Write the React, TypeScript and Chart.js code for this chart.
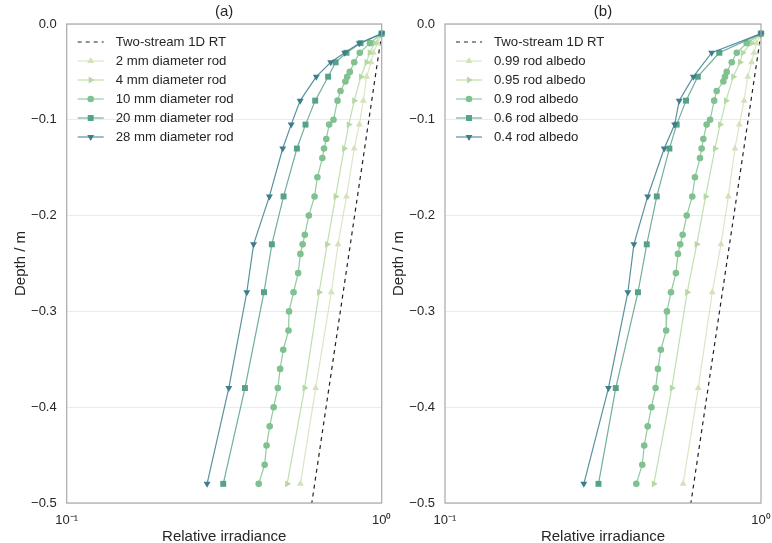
import React, { useEffect, useRef } from 'react';
import { Chart, registerables } from 'chart.js';

Chart.register(...registerables);

const FONT = '"Liberation Sans", Arial, Helvetica, sans-serif';
const TEXT = '#262626';

// Depth grids (m)
const depthMain = [-0.01, -0.02, -0.03, -0.04, -0.055, -0.08, -0.105, -0.13, -0.18, -0.23, -0.28, -0.38, -0.48];
const depthCoarse = [-0.01, -0.03, -0.055, -0.08, -0.105, -0.13, -0.18, -0.23, -0.28, -0.38, -0.48];
const depthFine = [
  -0.01, -0.02, -0.03, -0.04, -0.05, -0.055, -0.06, -0.07, -0.08, -0.1, -0.105, -0.12, -0.13, -0.14, -0.16, -0.18,
  -0.2, -0.22, -0.23, -0.24, -0.26, -0.28, -0.3, -0.32, -0.34, -0.36, -0.38, -0.4, -0.42, -0.44, -0.46, -0.48,
];
const depthTwoStream = [-0.01, -0.5];

// Relative irradiance
const twoStream = [1.0, 0.6];

// Panel (a): rod diameter
const rod2mm = [1.0, 0.971, 0.941, 0.925, 0.896, 0.874, 0.849, 0.818, 0.773, 0.727, 0.692, 0.617, 0.552];
const rod4mm = [1.0, 0.95, 0.916, 0.895, 0.859, 0.818, 0.786, 0.76, 0.714, 0.671, 0.633, 0.569, 0.501];
const rod10mm = [
  1.0, 0.918, 0.852, 0.818, 0.792, 0.777, 0.767, 0.74, 0.724, 0.703, 0.681, 0.667, 0.656, 0.648, 0.625, 0.612,
  0.587, 0.57, 0.561, 0.552, 0.543, 0.525, 0.508, 0.506, 0.487, 0.476, 0.468, 0.454, 0.441, 0.431, 0.425, 0.407,
];
const rod20mm = [1.0, 0.857, 0.773, 0.714, 0.676, 0.615, 0.573, 0.538, 0.488, 0.448, 0.423, 0.368, 0.314];
const rod28mm = [1.0, 0.849, 0.763, 0.689, 0.62, 0.551, 0.516, 0.485, 0.44, 0.392, 0.373, 0.327, 0.279];

// Panel (b): rod albedo
const alb099 = [1.0, 0.969, 0.95, 0.934, 0.908, 0.884, 0.854, 0.827, 0.788, 0.747, 0.701, 0.633, 0.567];
const alb095 = [1.0, 0.935, 0.875, 0.858, 0.817, 0.775, 0.742, 0.715, 0.668, 0.626, 0.584, 0.522, 0.458];
const alb090 = [
  1.0, 0.901, 0.838, 0.808, 0.779, 0.769, 0.76, 0.724, 0.711, 0.69, 0.673, 0.657, 0.649, 0.641, 0.618, 0.606,
  0.582, 0.565, 0.555, 0.546, 0.538, 0.519, 0.504, 0.501, 0.482, 0.472, 0.464, 0.45, 0.438, 0.427, 0.421, 0.403,
];
const alb060 = [1.0, 0.738, 0.631, 0.579, 0.541, 0.513, 0.468, 0.435, 0.408, 0.347, 0.306];
const alb040 = [1.0, 0.698, 0.611, 0.551, 0.533, 0.494, 0.438, 0.396, 0.379, 0.329, 0.275];

const labelsA = ['Two-stream 1D RT', '2 mm diameter rod', '4 mm diameter rod', '10 mm diameter rod', '20 mm diameter rod', '28 mm diameter rod'];
const labelsB = ['Two-stream 1D RT', '0.99 rod albedo', '0.95 rod albedo', '0.9 rod albedo', '0.6 rod albedo', '0.4 rod albedo'];
const xTickLabels = ['10⁻¹', '10⁰'];

const COLORS = ['#222222', '#d4e2bb', '#b4d9a2', '#7fc18f', '#57a18b', '#3d7e8d'];
const STYLES = ['none', 'triangle', 'triangle', 'circle', 'rect', 'triangle'];
const ROTS = [0, 0, 90, 0, 0, 180];
const RADII = [0, 4, 4, 3.3, 4.2, 4];

function rgba(hex: string, a: number) {
  const n = parseInt(hex.slice(1), 16);
  return `rgba(${(n >> 16) & 255},${(n >> 8) & 255},${n & 255},${a})`;
}

function drawMarker(ctx: CanvasRenderingContext2D, style: string, rot: number, x: number, y: number, r: number, color: string) {
  if (style === 'none') return;
  ctx.save();
  ctx.fillStyle = color;
  ctx.beginPath();
  if (style === 'circle') {
    ctx.arc(x, y, r, 0, Math.PI * 2);
  } else if (style === 'rect') {
    const s = r * Math.SQRT1_2;
    ctx.rect(x - s, y - s, 2 * s, 2 * s);
  } else {
    const a = (rot * Math.PI) / 180;
    for (let k = 0; k < 3; k++) {
      const ang = a - Math.PI / 2 + (k * 2 * Math.PI) / 3;
      const px = x + r * Math.cos(ang);
      const py = y + r * Math.sin(ang);
      if (k === 0) ctx.moveTo(px, py);
      else ctx.lineTo(px, py);
    }
    ctx.closePath();
  }
  ctx.fill();
  ctx.restore();
}

type PanelProps = {
  left: number;
  width: number;
  yWidth: number;
  padRight: number;
  yTitlePad: number;
  title: string;
  labels: string[];
  xs: number[][];
  ys: number[][];
};

function Panel({ left, width, yWidth, padRight, yTitlePad, title, labels, xs, ys }: PanelProps) {
  const ref = useRef<HTMLCanvasElement>(null);
  useEffect(() => {
    const datasets = labels.map((label, i) => ({
      label,
      data: xs[i].map((v, j) => ({ x: v, y: ys[i][j] })),
      showLine: true,
      borderColor: i === 0 ? COLORS[0] : rgba(COLORS[i], 0.85),
      borderWidth: 1.2,
      borderDash: i === 0 ? [4, 4] : [],
      backgroundColor: COLORS[i],
      pointBackgroundColor: COLORS[i],
      pointBorderWidth: 0,
      pointRadius: RADII[i],
      pointStyle: i === 0 ? false : STYLES[i],
      pointRotation: ROTS[i],
      clip: false,
      order: labels.length - i,
    }));

    const deco = {
      id: 'deco',
      afterDraw(chart: any) {
        const { ctx, chartArea: ca } = chart;
        ctx.save();
        ctx.strokeStyle = '#a8a8a8';
        ctx.lineWidth = 1.2;
        ctx.strokeRect(ca.left, ca.top, ca.right - ca.left, ca.bottom - ca.top);
        ctx.fillStyle = TEXT;
        ctx.font = `15px ${FONT}`;
        ctx.textAlign = 'center';
        ctx.textBaseline = 'middle';
        ctx.fillText(title, (ca.left + ca.right) / 2, 12);
        ctx.font = `13.2px ${FONT}`;
        ctx.textAlign = 'left';
        const x0 = ca.left + 11;
        const x1 = ca.left + 37;
        for (let i = 0; i < labels.length; i++) {
          const y = ca.top + 18 + i * 19;
          ctx.save();
          ctx.beginPath();
          ctx.strokeStyle = i === 0 ? COLORS[0] : rgba(COLORS[i], 0.85);
          ctx.lineWidth = 1.2;
          if (i === 0) ctx.setLineDash([4, 4]);
          ctx.moveTo(x0, y);
          ctx.lineTo(x1, y);
          ctx.stroke();
          ctx.restore();
          drawMarker(ctx, STYLES[i], ROTS[i], (x0 + x1) / 2, y, RADII[i], COLORS[i]);
          ctx.fillStyle = TEXT;
          ctx.fillText(labels[i], ca.left + 49, y + 0.5);
        }
        ctx.restore();
      },
    };

    const chart = new Chart(ref.current as HTMLCanvasElement, {
      type: 'scatter',
      data: { datasets: datasets as any },
      options: {
        responsive: false,
        animation: false,
        layout: { padding: { left: 0, right: padRight, top: 24, bottom: 0 } },
        plugins: { legend: { display: false }, tooltip: { enabled: false }, title: { display: false } },
        scales: {
          x: {
            type: 'logarithmic',
            min: 0.1,
            max: 1,
            afterBuildTicks: (s: any) => {
              s.ticks = [{ value: 0.1 }, { value: 1 }];
            },
            afterFit: (s: any) => {
              s.height = 40;
              s.paddingLeft = 0;
              s.paddingRight = 0;
            },
            ticks: {
              autoSkip: false,
              maxRotation: 0,
              padding: 10,
              color: TEXT,
              font: { family: FONT, size: 13 },
              callback: (v: any) => (Math.abs(Number(v) - 1) < 1e-9 ? xTickLabels[1] : xTickLabels[0]),
            },
            grid: { display: false, drawTicks: false },
            border: { display: false },
            title: {
              display: true,
              text: 'Relative irradiance',
              color: TEXT,
              font: { family: FONT, size: 15 },
              padding: { top: 0, bottom: -3 },
            },
          },
          y: {
            type: 'linear',
            min: -0.5,
            max: 0,
            afterFit: (s: any) => {
              s.width = yWidth;
              s.paddingTop = 0;
              s.paddingBottom = 0;
            },
            ticks: {
              stepSize: 0.1,
              padding: 10,
              color: TEXT,
              font: { family: FONT, size: 13 },
              callback: (v: any) => {
                const n = Number(v);
                if (Math.abs(n) < 1e-9) return '0.0';
                return n.toFixed(1).replace('-', '−');
              },
            },
            grid: { color: '#ebebeb', lineWidth: 1, drawTicks: false },
            border: { display: false },
            title: {
              display: true,
              text: 'Depth / m',
              color: TEXT,
              font: { family: FONT, size: 15 },
              padding: { top: yTitlePad, bottom: 0 },
            },
          },
        },
      },
      plugins: [deco],
    } as any);
    return () => chart.destroy();
  }, []);
  return (
    <canvas
      ref={ref}
      width={width}
      height={543}
      style={{ position: 'absolute', left, top: 0, width, height: 543 }}
    />
  );
}

export default function App() {
  return (
    <div style={{ position: 'fixed', left: 0, top: 0, width: 772, height: 543, background: '#ffffff' }}>
      <Panel
        left={0}
        width={400}
        yWidth={66.7}
        padRight={18.3}
        yTitlePad={12}
        title="(a)"
        labels={labelsA}
        xs={[twoStream, rod2mm, rod4mm, rod10mm, rod20mm, rod28mm]}
        ys={[depthTwoStream, depthMain, depthMain, depthFine, depthMain, depthMain]}
      />
      <Panel
        left={386}
        width={386}
        yWidth={59}
        padRight={11}
        yTitlePad={4}
        title="(b)"
        labels={labelsB}
        xs={[twoStream, alb099, alb095, alb090, alb060, alb040]}
        ys={[depthTwoStream, depthMain, depthMain, depthFine, depthCoarse, depthCoarse]}
      />
    </div>
  );
}
